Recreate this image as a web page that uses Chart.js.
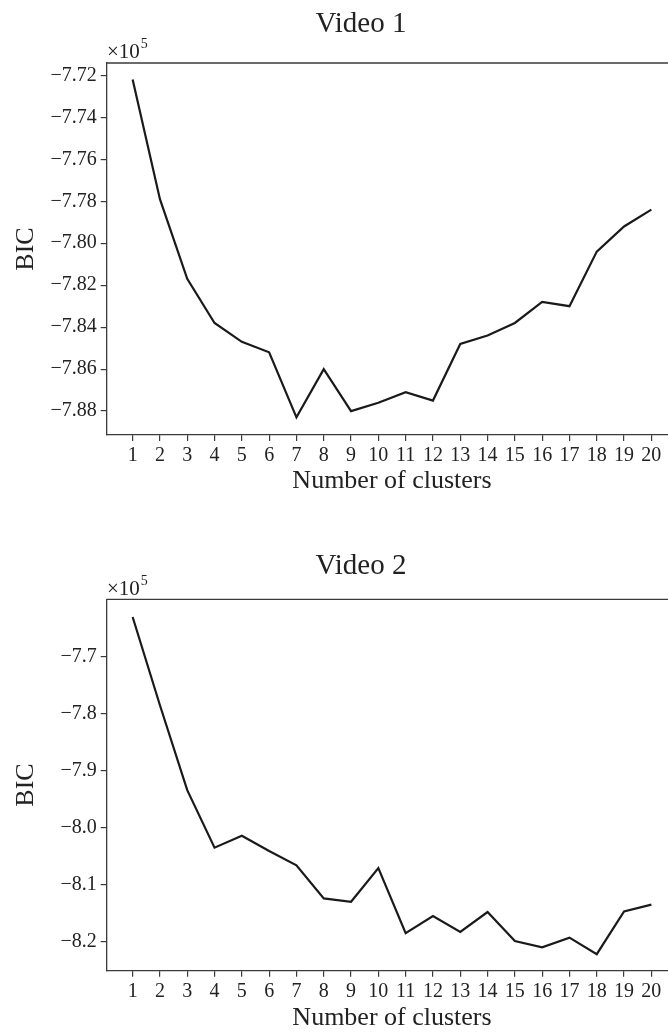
<!DOCTYPE html>
<html lang="en">

<head>
    <title>BIC vs number of clusters</title>
    <script src="https://cdn.jsdelivr.net/npm/chart.js"></script>
    <style>
        body { margin: 0; overflow: hidden; background: #fff; }
        canvas { position: absolute; left: 0; }
    </style>
</head>

<body>
    <canvas id="chart1" width="700" height="500" style="top: 0;"></canvas>
    <canvas id="chart2" width="700" height="534" style="top: 500px;"></canvas>

    <script>
        // Data, BIC values in units of 1e5
        const clusters = [1, 2, 3, 4, 5, 6, 7, 8, 9, 10, 11, 12, 13, 14, 15, 16, 17, 18, 19, 20];
        const bicVideo1 = [-7.722, -7.779, -7.817, -7.838, -7.847, -7.852, -7.883, -7.860, -7.880, -7.876,
            -7.871, -7.875, -7.848, -7.844, -7.838, -7.828, -7.830, -7.804, -7.792, -7.784];
        const bicVideo2 = [-7.630, -7.785, -7.934, -8.035, -8.014, -8.041, -8.066, -8.124, -8.130, -8.071,
            -8.185, -8.155, -8.183, -8.148, -8.199, -8.210, -8.193, -8.222, -8.147, -8.135];
        const yTicksVideo1 = [-7.72, -7.74, -7.76, -7.78, -7.80, -7.82, -7.84, -7.86, -7.88];
        const yTicksVideo2 = [-7.7, -7.8, -7.9, -8.0, -8.1, -8.2];

        const FONT = "'Liberation Serif', 'Times New Roman', serif";
        const INK = '#222';
        const AXIS = '#3a3a3a';

        // Title, the x10^5 offset label and the top / right spines
        const decorations = {
            id: 'decorations',
            afterDraw(chart, args, opts) {
                const { ctx, chartArea } = chart;
                ctx.save();
                ctx.strokeStyle = AXIS;
                ctx.lineWidth = 1.3;
                ctx.beginPath();
                ctx.moveTo(chartArea.left, chartArea.top);
                ctx.lineTo(chartArea.right, chartArea.top);
                ctx.lineTo(chartArea.right, chartArea.bottom);
                ctx.stroke();

                ctx.fillStyle = INK;
                ctx.textBaseline = 'alphabetic';
                ctx.textAlign = 'center';
                ctx.font = '29px ' + FONT;
                ctx.fillText(opts.title, 361, opts.titleY);

                ctx.textAlign = 'left';
                ctx.font = '21px ' + FONT;
                ctx.fillText('\u00d710', 107, opts.offsetY);
                const w = ctx.measureText('\u00d710').width;
                ctx.font = '14px ' + FONT;
                ctx.fillText('5', 107 + w + 1, opts.offsetY - 10);
                ctx.restore();
            }
        };

        function makeChart(id, title, values, yTicks, digits, yMin, yMax, box) {
            return new Chart(document.getElementById(id), {
                type: 'line',
                data: {
                    datasets: [{
                        data: clusters.map((c, i) => ({ x: c, y: values[i] })),
                        borderColor: '#1a1a1a',
                        borderWidth: 2.2,
                        pointRadius: 0,
                        tension: 0,
                        fill: false
                    }]
                },
                options: {
                    responsive: false,
                    animation: false,
                    devicePixelRatio: 1,
                    layout: { padding: { left: 0, top: box.top, right: 22.7, bottom: 0 } },
                    plugins: {
                        legend: { display: false },
                        tooltip: { enabled: false },
                        decorations: { title: title, titleY: box.titleY, offsetY: box.offsetY }
                    },
                    scales: {
                        x: {
                            type: 'linear',
                            min: 0.05,
                            max: 20.95,
                            afterBuildTicks: (scale) => { scale.ticks = clusters.map(v => ({ value: v })); },
                            afterFit: (scale) => { scale.height = box.xHeight; },
                            grid: { display: true, drawOnChartArea: false, drawTicks: true, tickLength: 6, color: AXIS, lineWidth: 1.2 },
                            border: { display: true, color: AXIS, width: 1.3 },
                            ticks: {
                                autoSkip: false, maxRotation: 0, padding: 3,
                                color: INK, font: { family: FONT, size: 20 },
                                callback: (v) => String(v)
                            },
                            title: {
                                display: true, text: 'Number of clusters', color: INK,
                                font: { family: FONT, size: 26 },
                                padding: { top: 0, bottom: box.xTitlePad }
                            }
                        },
                        y: {
                            min: yMin,
                            max: yMax,
                            afterBuildTicks: (scale) => { scale.ticks = yTicks.map(v => ({ value: v })); },
                            afterFit: (scale) => { scale.width = 106.7; },
                            grid: { display: true, drawOnChartArea: false, drawTicks: true, tickLength: 6, color: AXIS, lineWidth: 1.2 },
                            border: { display: true, color: AXIS, width: 1.3 },
                            ticks: {
                                padding: 4, color: INK, font: { family: FONT, size: 20 },
                                callback: (v) => '\u2212' + Math.abs(v).toFixed(digits)
                            },
                            title: {
                                display: true, text: 'BIC', color: INK,
                                font: { family: FONT, size: 26 },
                                padding: { top: 10.4, bottom: 0 }
                            }
                        }
                    }
                },
                plugins: [decorations]
            });
        }

        makeChart('chart1', 'Video 1', bicVideo1, yTicksVideo1, 2, -7.8914, -7.7141,
            { top: 63, titleY: 32, offsetY: 58, xHeight: 65, xTitlePad: 3.4 });
        makeChart('chart2', 'Video 2', bicVideo2, yTicksVideo2, 1, -8.251, -7.599,
            { top: 99.3, titleY: 74, offsetY: 95, xHeight: 63.3, xTitlePad: 0.5 });
    </script>
</body>

</html>
